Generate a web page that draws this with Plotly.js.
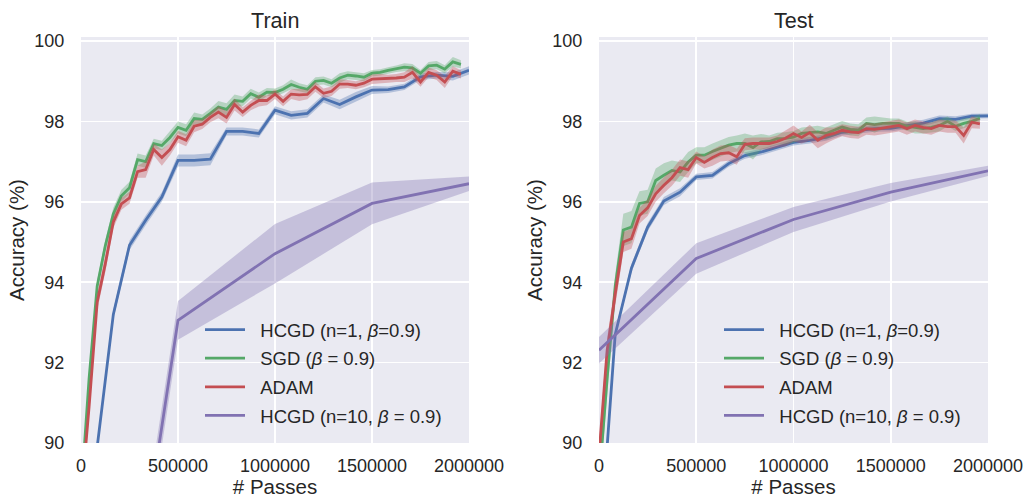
<!DOCTYPE html>
<html><head><meta charset="utf-8">
<script src="https://cdn.plot.ly/plotly-3.0.1.min.js"></script>
<style>html,body{margin:0;padding:0;background:#fff;} #chart{width:1028px;height:498px;}</style>
</head><body><div id="chart"></div>
<script>
// ---- axes / labels ----
const xTickVals = [0, 500000, 1000000, 1500000, 2000000];
const xTickLabels = ['0', '500000', '1000000', '1500000', '2000000'];
const yTickVals = [90, 92, 94, 96, 98, 100];
const panelTitles = ['Train', 'Test'];
const seriesNames = ['HCGD (n=1, <i>β</i>=0.9)', 'SGD (<i>β</i> = 0.9)', 'ADAM', 'HCGD (n=10, <i>β</i> = 0.9)'];
const seriesColors = ['#4C72B0', '#55A868', '#C44E52', '#8172B2'];

// evaluation grids (# passes between evaluations)
const STEP_HCGD1 = 2000000 / 24;
const STEP_FINE = 2000000 / 48;
const STEP_HCGD10 = 500000;

// ---- Train accuracy (%) ----
const trainHcgd1 = [89.9, 93.2, 94.92, 95.54, 96.12, 97.03, 97.03, 97.06, 97.75, 97.75, 97.7, 98.28, 98.15, 98.2, 98.57, 98.42, 98.61, 98.78, 98.79, 98.86, 99.11, 99.15, 99.12, 99.27];
const trainHcgd1Std = [0.1, 0.12, 0.12, 0.12, 0.12, 0.15, 0.15, 0.15, 0.1, 0.1, 0.1, 0.1, 0.1, 0.1, 0.1, 0.12, 0.12, 0.1, 0.08, 0.08, 0.08, 0.08, 0.1, 0.1];
const trainSgd = [88.7, 91.6, 93.9, 94.9, 95.7, 96.15, 96.35, 97.05, 97.0, 97.45, 97.4, 97.6, 97.85, 97.78, 98.07, 98.05, 98.2, 98.36, 98.3, 98.52, 98.5, 98.69, 98.6, 98.73, 98.72, 98.8, 98.92, 98.85, 98.8, 99.0, 99.02, 98.95, 99.08, 99.15, 99.13, 99.1, 99.2, 99.22, 99.27, 99.31, 99.35, 99.33, 99.2, 99.38, 99.4, 99.3, 99.48, 99.42];
const trainSgdStd = [0.2, 0.2, 0.15, 0.15, 0.15, 0.15, 0.15, 0.15, 0.15, 0.12, 0.12, 0.15, 0.15, 0.15, 0.15, 0.12, 0.12, 0.15, 0.15, 0.15, 0.12, 0.12, 0.12, 0.1, 0.1, 0.1, 0.12, 0.1, 0.1, 0.1, 0.1, 0.1, 0.12, 0.1, 0.1, 0.1, 0.08, 0.08, 0.08, 0.08, 0.1, 0.1, 0.08, 0.1, 0.1, 0.1, 0.12, 0.1];
const trainAdam = [88.55, 90.9, 93.5, 94.45, 95.5, 95.95, 96.1, 96.75, 96.8, 97.3, 97.1, 97.3, 97.62, 97.53, 97.88, 97.93, 98.1, 98.23, 98.1, 98.42, 98.23, 98.4, 98.52, 98.52, 98.68, 98.5, 98.68, 98.66, 98.67, 98.86, 98.7, 98.75, 98.93, 98.93, 98.9, 98.95, 99.05, 99.06, 99.06, 99.08, 99.1, 99.22, 98.98, 99.22, 99.15, 98.98, 99.25, 99.17];
const trainAdamStd = [0.2, 0.2, 0.2, 0.2, 0.15, 0.15, 0.15, 0.15, 0.2, 0.15, 0.2, 0.15, 0.15, 0.15, 0.15, 0.12, 0.12, 0.15, 0.15, 0.15, 0.12, 0.12, 0.15, 0.12, 0.12, 0.12, 0.12, 0.15, 0.12, 0.12, 0.12, 0.12, 0.12, 0.1, 0.1, 0.1, 0.12, 0.12, 0.1, 0.1, 0.12, 0.15, 0.12, 0.12, 0.12, 0.15, 0.12, 0.1];
const trainHcgd10 = [77.2, 93.05, 94.71, 95.96, 96.45];
const trainHcgd10Std = [0.5, 0.48, 0.74, 0.52, 0.18];

// ---- Test accuracy (%) ----
const testHcgd1 = [87.1, 92.7, 94.35, 95.37, 96.02, 96.24, 96.62, 96.66, 96.95, 97.15, 97.24, 97.36, 97.48, 97.53, 97.6, 97.73, 97.78, 97.82, 97.83, 97.9, 97.96, 98.07, 98.05, 98.13, 98.14];
const testHcgd1Std = [0.1, 0.1, 0.1, 0.1, 0.1, 0.1, 0.08, 0.08, 0.08, 0.08, 0.08, 0.08, 0.08, 0.08, 0.08, 0.08, 0.08, 0.08, 0.08, 0.08, 0.08, 0.08, 0.08, 0.06, 0.06];
const testSgd = [89.0, 91.6, 93.9, 95.3, 95.37, 95.96, 96.0, 96.53, 96.66, 96.78, 96.74, 96.99, 97.16, 97.16, 97.25, 97.33, 97.41, 97.45, 97.45, 97.35, 97.49, 97.5, 97.57, 97.58, 97.61, 97.7, 97.72, 97.74, 97.7, 97.78, 97.86, 97.8, 97.78, 97.95, 97.92, 97.95, 97.95, 97.95, 97.88, 97.85, 97.82, 97.85, 97.9, 98.0, 97.88, 97.95, 98.0, 98.08];
const testSgdStd = [0.3, 0.3, 0.3, 0.4, 0.4, 0.3, 0.3, 0.3, 0.3, 0.25, 0.25, 0.25, 0.2, 0.2, 0.2, 0.2, 0.2, 0.2, 0.25, 0.3, 0.2, 0.15, 0.15, 0.15, 0.15, 0.15, 0.15, 0.15, 0.15, 0.15, 0.15, 0.15, 0.15, 0.15, 0.2, 0.15, 0.12, 0.12, 0.12, 0.15, 0.12, 0.12, 0.15, 0.12, 0.12, 0.12, 0.1, 0.1];
const testAdam = [89.7, 92.3, 93.7, 95.0, 95.08, 95.66, 95.85, 96.2, 96.41, 96.6, 96.85, 96.8, 97.1, 96.98, 97.1, 97.2, 97.22, 97.12, 97.43, 97.45, 97.45, 97.45, 97.5, 97.58, 97.7, 97.6, 97.72, 97.53, 97.65, 97.7, 97.78, 97.74, 97.72, 97.82, 97.8, 97.83, 97.86, 97.9, 97.82, 97.9, 97.85, 97.82, 97.9, 97.87, 97.87, 97.65, 97.98, 97.94];
const testAdamStd = [0.3, 0.3, 0.3, 0.25, 0.25, 0.2, 0.2, 0.2, 0.2, 0.2, 0.2, 0.2, 0.15, 0.15, 0.2, 0.2, 0.2, 0.2, 0.15, 0.15, 0.15, 0.15, 0.15, 0.2, 0.2, 0.15, 0.2, 0.2, 0.2, 0.15, 0.15, 0.15, 0.15, 0.15, 0.15, 0.15, 0.15, 0.15, 0.15, 0.15, 0.15, 0.15, 0.15, 0.15, 0.15, 0.2, 0.15, 0.12];
const testHcgd10 = [92.31, 94.59, 95.56, 96.24, 96.77];
const testHcgd10Std = [0.33, 0.38, 0.31, 0.23, 0.13];

// ---- build traces ----
function grid(step, startK, n) { const a = []; for (let i = 0; i < n; i++) a.push((startK + i) * step); return a; }
function rgba(hex, a) {
  const r = parseInt(hex.slice(1, 3), 16), g = parseInt(hex.slice(3, 5), 16), b = parseInt(hex.slice(5, 7), 16);
  return `rgba(${r},${g},${b},${a})`;
}
const FONT = 'Liberation Sans, Arial, sans-serif';
const NBSP = '\u00a0\u00a0';
const traces = [];
function addSeries(idx, xs, ys, sd, xa, ya, legendId) {
  const upper = ys.map((v, i) => v + sd[i]);
  const lower = ys.map((v, i) => v - sd[i]);
  const grp = legendId + '_' + idx;
  traces.push({
    x: xs.concat(xs.slice().reverse()), y: upper.concat(lower.slice().reverse()),
    xaxis: xa, yaxis: ya, type: 'scatter', mode: 'lines', fill: 'toself',
    fillcolor: rgba(seriesColors[idx], 0.35), line: {width: 0, color: 'rgba(0,0,0,0)'},
    hoverinfo: 'skip', showlegend: false, legend: legendId, legendgroup: grp
  });
  traces.push({
    x: xs, y: ys, xaxis: xa, yaxis: ya, type: 'scatter', mode: 'lines',
    name: NBSP + seriesNames[idx], line: {color: seriesColors[idx], width: 2.8},
    legend: legendId, legendgroup: grp
  });
}
const panels = [
  {xa: 'x', ya: 'y', lg: 'legend', data: [
    [grid(STEP_HCGD1, 1, trainHcgd1.length), trainHcgd1, trainHcgd1Std],
    [grid(STEP_FINE, 0, trainSgd.length), trainSgd, trainSgdStd],
    [grid(STEP_FINE, 0, trainAdam.length), trainAdam, trainAdamStd],
    [grid(STEP_HCGD10, 0, trainHcgd10.length), trainHcgd10, trainHcgd10Std]]},
  {xa: 'x2', ya: 'y2', lg: 'legend2', data: [
    [grid(STEP_HCGD1, 0, testHcgd1.length), testHcgd1, testHcgd1Std],
    [grid(STEP_FINE, 0, testSgd.length), testSgd, testSgdStd],
    [grid(STEP_FINE, 0, testAdam.length), testAdam, testAdamStd],
    [grid(STEP_HCGD10, 0, testHcgd10.length), testHcgd10, testHcgd10Std]]}
];
panels.forEach(p => p.data.forEach((d, i) => addSeries(i, d[0], d[1], d[2], p.xa, p.ya, p.lg)));

// ---- layout ----
const W = 1028, H = 498;
const textColor = '#262626';
function xAxis(dom, anchor) {
  return {domain: dom, anchor: anchor, range: [0, 2000000], tickvals: xTickVals, ticktext: xTickLabels,
    showgrid: true, gridcolor: '#ffffff', gridwidth: 1.7, zeroline: false, showline: false,
    ticks: 'outside', ticklen: 6, tickcolor: 'rgba(0,0,0,0)', automargin: false,
    tickfont: {family: FONT, size: 18, color: textColor},
    title: {text: '# Passes', font: {family: FONT, size: 20.5, color: textColor}, standoff: 7}};
}
function yAxis(dom, anchor) {
  return {domain: dom, anchor: anchor, range: [90, 100.1], tickvals: yTickVals,
    showgrid: true, gridcolor: '#ffffff', gridwidth: 1.7, zeroline: false, showline: false,
    ticks: 'outside', ticklen: 12, tickcolor: 'rgba(0,0,0,0)', automargin: false,
    tickfont: {family: FONT, size: 18, color: textColor},
    title: {text: 'Accuracy (%)', font: {family: FONT, size: 20.5, color: textColor}, standoff: 4}};
}
const yDom = [1 - 443 / H, 1 - 37 / H];
function legendAt(px, py) {
  return {x: px / W, y: 1 - py / H, xanchor: 'left', yanchor: 'top', bgcolor: 'rgba(0,0,0,0)',
    borderwidth: 0, itemwidth: 40, tracegroupgap: 1.6, traceorder: 'grouped',
    font: {family: FONT, size: 18.5, color: textColor}};
}
const layout = {
  width: W, height: H, margin: {l: 0, r: 0, t: 0, b: 0},
  paper_bgcolor: '#ffffff', plot_bgcolor: '#EAEAF2', showlegend: true,
  font: {family: FONT, color: textColor},
  xaxis: xAxis([81 / W, 469 / W], 'y'),
  yaxis: yAxis(yDom, 'x'),
  xaxis2: xAxis([599 / W, 988 / W], 'y2'),
  yaxis2: yAxis(yDom, 'x2'),
  legend: legendAt(200, 311),
  legend2: legendAt(719, 311),
  annotations: [
    {text: panelTitles[0], x: 275 / W, y: 1 - 20 / H, xref: 'paper', yref: 'paper', xanchor: 'center', yanchor: 'middle', showarrow: false, font: {family: FONT, size: 21.6, color: textColor}},
    {text: panelTitles[1], x: 793.5 / W, y: 1 - 20 / H, xref: 'paper', yref: 'paper', xanchor: 'center', yanchor: 'middle', showarrow: false, font: {family: FONT, size: 21.6, color: textColor}}
  ]
};
Plotly.newPlot('chart', traces, layout, {staticPlot: true, displayModeBar: false});
</script>
</body></html>
